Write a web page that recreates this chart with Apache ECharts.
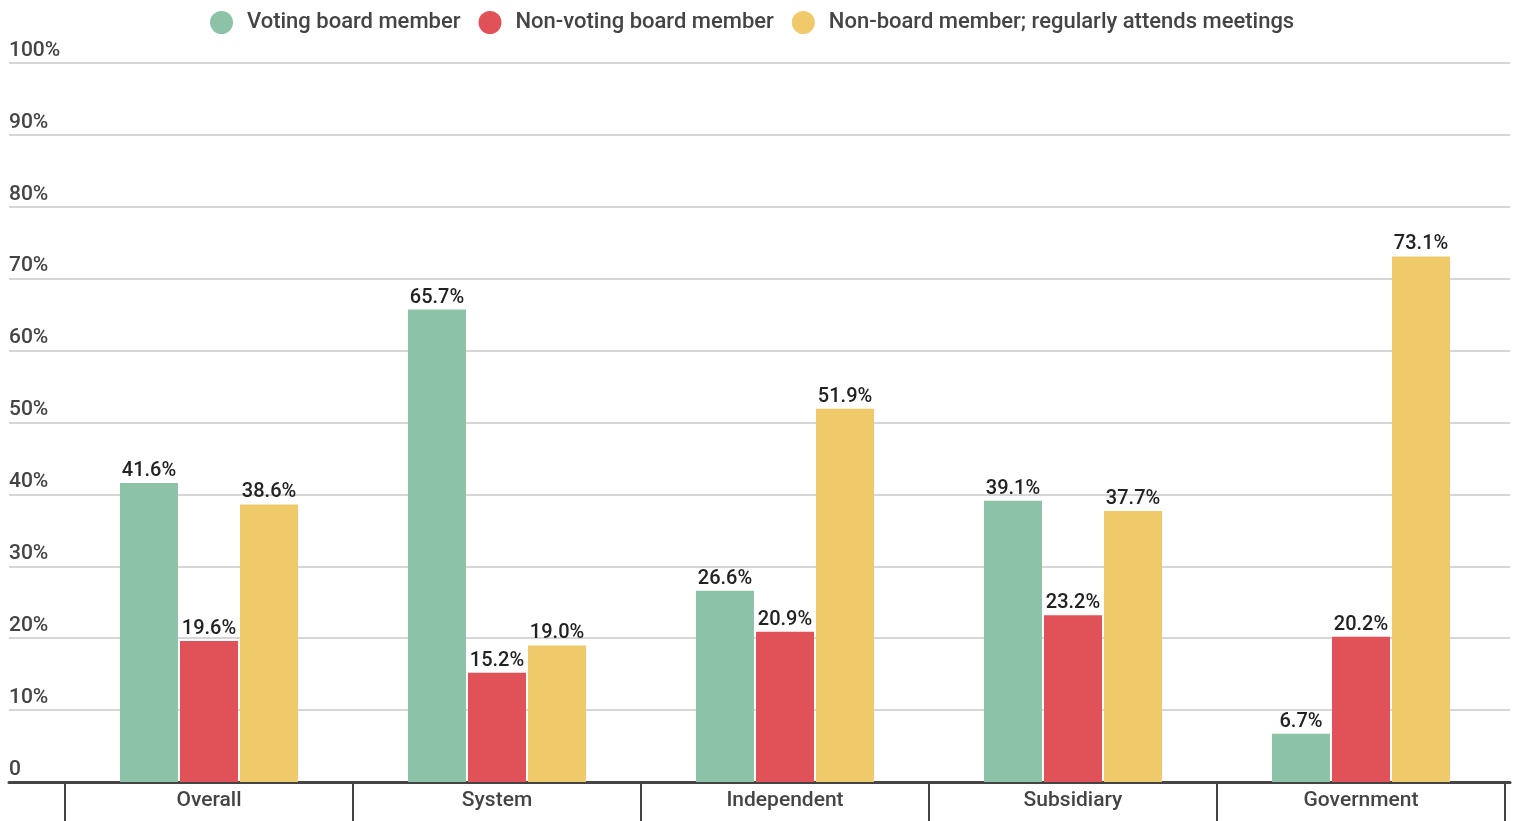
<!DOCTYPE html>
<html>
<head>
<meta charset="utf-8">
<style>
  html, body { margin: 0; padding: 0; background: #fff; }
  #chart { width: 1517px; height: 821px; }
</style>
<script src="https://cdn.jsdelivr.net/npm/echarts@6/dist/echarts.min.js"></script>
</head>
<body>
<div id="chart"></div>
<script>
// Board participation by organisation type
const categories = ['Overall', 'System', 'Independent', 'Subsidiary', 'Government'];
const seriesNames = ['Voting board member', 'Non-voting board member', 'Non-board member; regularly attends meetings'];
const votingMember = [41.6, 65.7, 26.6, 39.1, 6.7];
const nonVotingMember = [19.6, 15.2, 20.9, 23.2, 20.2];
const nonBoardAttendee = [38.6, 19.0, 51.9, 37.7, 73.1];
const yTicks = [0, 10, 20, 30, 40, 50, 60, 70, 80, 90, 100];

const colors = ['#8cc3a7', '#e05257', '#f0c96a'];
const FONT = 'Roboto, "Noto Sans", sans-serif';

const chart = echarts.init(document.getElementById('chart'), null, { renderer: 'canvas' });

const barLabel = {
  show: true,
  position: 'top',
  distance: 2,
  color: '#222',
  fontFamily: FONT,
  fontSize: 20,
  fontWeight: 500,
  formatter: p => p.value.toFixed(1) + '%'
};

function bar(name, data, color) {
  return {
    name, type: 'bar', data,
    xAxisIndex: 1, yAxisIndex: 1,
    barWidth: 58, barGap: '3.5%',
    itemStyle: { color },
    label: barLabel,
    emphasis: { disabled: true }
  };
}

chart.setOption({
  animation: false,
  color: colors,
  legend: {
    top: 6,
    left: 205,
    icon: 'circle',
    itemWidth: 41,
    itemHeight: 23,
    itemGap: 18,
    textStyle: { fontFamily: FONT, fontSize: 22, fontWeight: 500, color: '#444' },
    data: seriesNames
  },
  grid: [
    { left: 9, right: 7, top: 63, bottom: 39 },
    { left: 65, right: 12, top: 63, bottom: 39 }
  ],
  xAxis: [
    {
      type: 'value', gridIndex: 0, min: 0, max: 1,
      axisLine: { show: true, lineStyle: { color: '#444', width: 3 } },
      axisTick: { show: false }, axisLabel: { show: false }, splitLine: { show: false }
    },
    {
      type: 'category', gridIndex: 1, data: categories,
      axisLine: { show: false },
      axisTick: { show: true, length: 40, lineStyle: { color: '#444', width: 2 } },
      axisLabel: { fontFamily: FONT, fontSize: 21, fontWeight: 500, color: '#444', margin: 8 }
    }
  ],
  yAxis: [
    {
      type: 'value', gridIndex: 0, min: 0, max: 100, interval: 10,
      axisLine: { show: false }, axisTick: { show: false },
      splitLine: { lineStyle: { color: '#c8c8c8', width: 1.5 } },
      axisLabel: {
        inside: true, margin: 0, align: 'left', verticalAlign: 'bottom',
        lineHeight: 21, padding: [0, 0, 2, 0],
        fontFamily: FONT, fontSize: 21, fontWeight: 500, color: '#444',
        formatter: v => (yTicks.indexOf(v) >= 0 ? (v === 0 ? '0' : v + '%') : '')
      }
    },
    {
      type: 'value', gridIndex: 1, min: 0, max: 100, interval: 10, show: false
    }
  ],
  series: [
    bar(seriesNames[0], votingMember, colors[0]),
    bar(seriesNames[1], nonVotingMember, colors[1]),
    bar(seriesNames[2], nonBoardAttendee, colors[2]),
    { type: 'line', xAxisIndex: 0, yAxisIndex: 0, data: [], silent: true }
  ]
});
</script>
</body>
</html>
